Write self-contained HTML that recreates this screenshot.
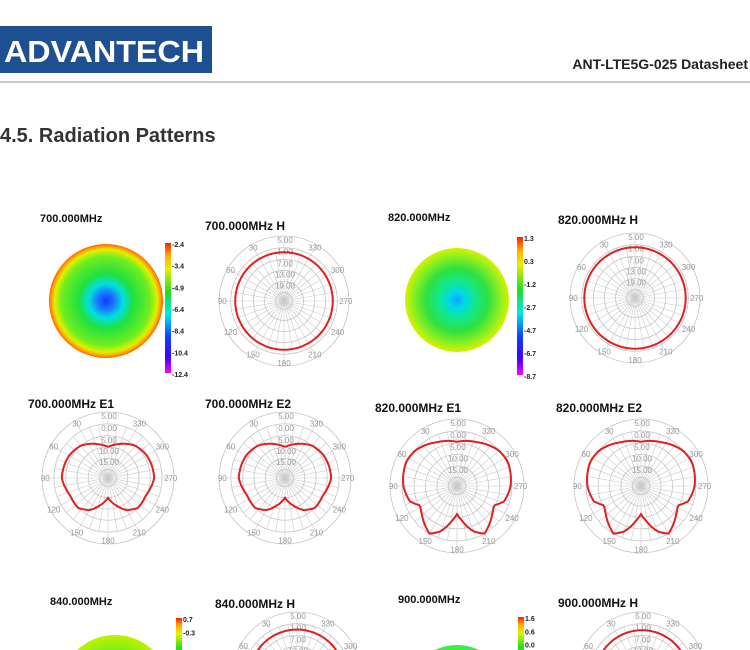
<!DOCTYPE html>
<html><head><meta charset="utf-8"><style>
html,body{margin:0;padding:0;background:#fff;width:750px;height:650px;overflow:hidden}
svg{display:block;overflow:hidden}
</style></head><body>
<svg id="s" width="750" height="650" viewBox="0 0 750 650" xmlns="http://www.w3.org/2000/svg" font-family="Liberation Sans, sans-serif">
<defs>
<radialGradient id="g700" cx="0.5" cy="0.5" r="0.5">
<stop offset="0" stop-color="#0a3cff"/><stop offset="0.15" stop-color="#1a78ff"/><stop offset="0.3" stop-color="#00e0e0"/>
<stop offset="0.48" stop-color="#20e040"/><stop offset="0.78" stop-color="#70ee20"/><stop offset="0.9" stop-color="#e0f000"/>
<stop offset="0.96" stop-color="#ffa000"/><stop offset="1" stop-color="#ff6000"/></radialGradient>
<radialGradient id="g820" cx="0.5" cy="0.5" r="0.5">
<stop offset="0" stop-color="#10a0ff"/><stop offset="0.15" stop-color="#00d8e8"/><stop offset="0.35" stop-color="#10e890"/>
<stop offset="0.6" stop-color="#30e040"/><stop offset="0.85" stop-color="#90f020"/><stop offset="1" stop-color="#d8f000"/></radialGradient>
<radialGradient id="g840" cx="0.5" cy="0.5" r="0.5">
<stop offset="0" stop-color="#00e0a0"/><stop offset="0.6" stop-color="#60ee20"/><stop offset="1" stop-color="#c0f000"/></radialGradient>
<radialGradient id="g900" cx="0.5" cy="0.5" r="0.5">
<stop offset="0" stop-color="#00e8e0"/><stop offset="0.6" stop-color="#10f0a0"/><stop offset="1" stop-color="#40ec40"/></radialGradient>
<linearGradient id="cb" x1="0" y1="0" x2="0" y2="1">
<stop offset="0" stop-color="#ff2000"/><stop offset="0.1" stop-color="#ffb000"/><stop offset="0.2" stop-color="#e8f000"/>
<stop offset="0.38" stop-color="#20e020"/><stop offset="0.55" stop-color="#00e8e8"/><stop offset="0.72" stop-color="#1040ff"/>
<stop offset="0.88" stop-color="#4000ff"/><stop offset="1" stop-color="#ff00ff"/></linearGradient>
</defs>
<rect x="0" y="26" width="212" height="47" fill="#1d4f91"/>
<text x="4" y="62" fill="#fff" font-size="31" font-weight="bold" textLength="200" lengthAdjust="spacingAndGlyphs">ADVANTECH</text>
<text x="748" y="69" text-anchor="end" font-size="14" font-weight="bold" fill="#222">ANT-LTE5G-025  Datasheet</text>
<rect x="0" y="81" width="750" height="2" fill="#c8c8c8"/>
<text x="0" y="142" font-size="20" font-weight="bold" fill="#333">4.5. Radiation Patterns</text>
<g id="p"></g>
</svg>
<script>
const p=document.getElementById('p');let h='';
function T(x,y,t,fs,fw,fill,anchor){h+=`<text x="${x}" y="${y}" font-size="${fs}" ${fw?'font-weight="bold"':''} fill="${fill||'#111'}" ${anchor?'text-anchor="'+anchor+'"':''}>${t}</text>`;}
function disc(cx,cy,r,g){h+=`<circle cx="${cx}" cy="${cy}" r="${r}" fill="url(#${g})"/>`;}
function cbar(x,y,hh,labels){h+=`<rect x="${x}" y="${y}" width="6" height="${hh}" fill="url(#cb)"/>`;
 labels.forEach((l,i)=>T(x+7,y+4+i*hh/(labels.length-1),l,7,1,'#222'));}
function polar(cx,cy,R,vals,pat){
 const rings=[1,0.82,0.64,0.47,0.3,0.13];
 rings.forEach(f=>h+=`<circle cx="${cx}" cy="${cy}" r="${R*f}" fill="none" stroke="#c4c4c4" stroke-width="0.8"/>`);
 for(let a=0;a<360;a+=10){const rr=a%30==0?R:R*0.82;const t=a*Math.PI/180;
  h+=`<line x1="${cx}" y1="${cy}" x2="${cx-rr*Math.sin(t)}" y2="${cy-rr*Math.cos(t)}" stroke="#cacaca" stroke-width="0.6"/>`;}
 for(let a=30;a<360;a+=30){const t=a*Math.PI/180,rr=R*0.95;
  T((cx-rr*Math.sin(t)).toFixed(1),(cy-rr*Math.cos(t)+3).toFixed(1),a,8,0,'#999','middle');}
 vals.forEach((v,i)=>T(cx+1,cy-R*[1,0.82,0.64,0.47,0.3][i]+7,v,8,0,'#999','middle'));
 if(pat){let pts=[];for(let a=0;a<=360;a+=3){const t=a*Math.PI/180;const r=R*pat(a);pts.push((cx-r*Math.sin(t)).toFixed(1)+','+(cy-r*Math.cos(t)).toFixed(1));}
  h+=`<polyline points="${pts.join(' ')}" fill="none" stroke="#e02020" stroke-width="2"/>`;}
}
function interp(tab){return a=>{let b=a>180?360-a:a;for(let i=0;i<tab.length-1;i++){if(b>=tab[i][0]&&b<=tab[i+1][0]){const f=(b-tab[i][0])/(tab[i+1][0]-tab[i][0]);return tab[i][1]+f*(tab[i+1][1]-tab[i][1]);}}return tab[tab.length-1][1];};}
const E700=interp([[0,0.47],[20,0.55],[40,0.64],[60,0.68],[90,0.70],[115,0.63],[135,0.64],[150,0.56],[165,0.42],[180,0.30]]);
const E820=interp([[0,0.66],[25,0.72],[50,0.82],[65,0.84],[90,0.80],[108,0.74],[118,0.62],[130,0.68],[150,0.82],[160,0.72],[172,0.52],[180,0.42]]);
const H=r=>(a=>r);
const vH=['5.00','1.00','7.00','13.00','19.00'],vE=['5.00','0.00','5.00','10.00','15.00'];
T(40,222,'700.000MHz',11,1);disc(106,301,57,'g700');cbar(165,243,130,['-2.4','-3.4','-4.9','-6.4','-8.4','-10.4','-12.4']);
T(205,230,'700.000MHz  H',12,1);polar(284,301,65,vH,H(0.75));
T(388,221,'820.000MHz',11,1);disc(457,300,52,'g820');cbar(517,237,138,['1.3','0.3','-1.2','-2.7','-4.7','-6.7','-8.7']);
T(558,224,'820.000MHz  H',12,1);polar(635,298,65,vH,H(0.78));
T(28,408,'700.000MHz  E1',12,1);polar(108,478,66,vE,E700);
T(205,408,'700.000MHz  E2',12,1);polar(285,478,66,vE,E700);
T(375,412,'820.000MHz  E1',12,1);polar(457,486,67,vE,E820);
T(556,412,'820.000MHz  E2',12,1);polar(641,486,67,vE,E820);
T(50,605,'840.000MHz',11,1);disc(115,690,55,'g840');cbar(176,618,80,['0.7','-0.3','','','','','']);
T(215,608,'840.000MHz  H',12,1);polar(297,677,65,vH,H(0.73));
T(398,603,'900.000MHz',11,1);disc(457,697,52,'g900');cbar(518,617,80,['1.6','0.6','0.0','','','','']);
T(558,607,'900.000MHz  H',12,1);polar(642,677,65,vH,H(0.72));
p.innerHTML=h;
</script>
</body></html>
